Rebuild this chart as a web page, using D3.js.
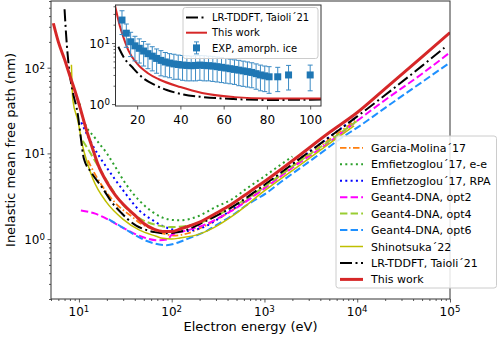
<!DOCTYPE html>
<html>
<head>
<meta charset="utf-8">
<script src="https://cdn.jsdelivr.net/npm/d3@7"></script>
<style>
  body { margin: 0; background: #fff; }
  text { font-family: "DejaVu Sans", sans-serif; fill: #000; }
</style>
</head>
<body>
<svg id="chart" width="498" height="338"></svg>
<script>
// ---------------- data (energy in eV, IMFP in nm) ----------------
const garciaMolina = [[12.5, 8.3], [13.5, 7.0], [18, 4.1], [25, 2.6], [38, 1.8], [45, 1.55], [58, 1.35], [74, 1.2], [90, 1.13], [104, 1.1], [150, 1.17], [200, 1.33], [430, 2.1], [1000, 4.0], [2000, 7.0], [5000, 14.5], [10000, 25]];
const emfietzoglouEE = [[10.2, 38], [11, 26], [15, 15], [20, 10], [25, 6.8], [32, 4.4], [45, 2.8], [63, 2.05], [80, 1.78], [104, 1.67], [123, 1.66], [200, 1.88], [282, 2.3], [465, 3.0], [645, 3.9], [1000, 5.4], [1500, 7.4], [2000, 9.2]];
const emfietzoglouRPA = [[10.6, 23], [14, 12.5], [20, 6.8], [30, 3.7], [45, 2.15], [63, 1.65], [80, 1.42], [100, 1.3], [123, 1.23], [200, 1.33], [430, 2.15], [1000, 4.2], [2000, 7.4], [5000, 15.5], [10000, 27]];
const geantOpt2 = [[10.5, 2.15], [15, 1.98], [20, 1.72], [30, 1.35], [40, 1.15], [54, 1.02], [70, 0.97], [90, 0.99], [100, 1.12], [150, 1.27], [200, 1.4], [430, 2.1], [1000, 3.9], [2000, 6.8], [5000, 13.5], [10000, 24], [20000, 42], [50000, 85], [100000, 151]];
const geantOpt4 = [[11, 14], [13, 10.5], [16, 7.2], [20, 4.8], [30, 2.5], [45, 1.75], [70, 1.45], [100, 1.38], [145, 1.42], [200, 1.55], [430, 2.3], [1000, 4.1], [2000, 7.1], [5000, 14], [10000, 24]];
const geantOpt6 = [[21, 1.7], [27, 1.45], [35, 1.22], [54, 0.95], [88, 0.85], [123, 0.93], [145, 1.0], [239, 1.25], [282, 1.39], [468, 1.95], [645, 2.5], [1070, 3.5], [1490, 4.6], [2450, 6.8], [3420, 8.8], [7150, 15.8], [10000, 20], [20000, 34], [50000, 68], [100000, 115]];
const shinotsuka = [[8.3, 108], [8.6, 42], [9.75, 24], [11, 12], [12, 8.5], [14.2, 5.0], [19.8, 2.7], [30, 1.7], [45, 1.27], [68, 1.08], [80, 1.02], [100, 1.0], [123, 1.03], [202, 1.15], [282, 1.35], [465, 1.9], [980, 3.6], [2450, 7.4], [5000, 13], [9250, 21]];
const taioli = [[7.0, 480], [7.3, 230], [7.8, 100], [8.5, 55], [9.75, 28], [10.5, 15], [11.3, 8.7], [13.6, 6.0], [18.2, 3.86], [22.9, 2.64], [28.3, 2.05], [33.7, 1.7], [41.4, 1.44], [49, 1.32], [64.5, 1.21], [80, 1.17], [100, 1.18], [150, 1.3], [200, 1.5], [430, 2.3], [1000, 4.3], [2000, 7.5], [5000, 15.5], [10000, 27], [20000, 48], [50000, 105], [87000, 171]];
const thisWork = [[5.3, 330], [6, 200], [7, 125], [8, 80], [9, 55], [10, 38], [12, 19], [14, 11.5], [16, 7.5], [20, 4.6], [25, 3.2], [30, 2.55], [40, 1.9], [50, 1.52], [65, 1.3], [80, 1.23], [100, 1.23], [125, 1.32], [200, 1.58], [300, 2.0], [430, 2.5], [700, 3.6], [1000, 4.7], [2000, 8.2], [5000, 17.5], [10000, 30], [20000, 57], [50000, 134], [100000, 257]];

// experiment (inset)
const expEnergy = [13, 15, 17, 19, 21, 23, 25, 27, 29, 31, 33, 35, 37, 39, 41, 43, 45, 47, 49, 51, 53, 55, 57, 59, 61, 63, 65, 67, 69, 71, 73, 75, 77, 79, 81, 85, 90, 100];
const expIMFP = [23.8, 14.5, 10.5, 9.0, 8.2, 7.4, 6.7, 6.1, 5.6, 5.2, 4.9, 4.7, 4.55, 4.45, 4.35, 4.3, 4.25, 4.3, 4.35, 4.3, 4.25, 4.2, 4.1, 4.0, 3.9, 3.8, 3.7, 3.6, 3.5, 3.4, 3.3, 3.15, 3.0, 2.9, 2.8, 2.8, 3.0, 3.0];
const expErr = [10, 6, 4.5, 3.9, 3.5, 3.2, 2.9, 2.6, 2.4, 2.3, 2.1, 2.0, 2.0, 1.9, 1.9, 1.9, 1.85, 1.9, 1.9, 1.9, 1.85, 1.85, 1.8, 1.75, 1.7, 1.65, 1.6, 1.6, 1.55, 1.5, 1.45, 1.4, 1.35, 1.3, 1.3, 1.2, 1.3, 1.35];

const xMajor = [10, 100, 1000, 10000, 100000];
const yMajor = [1, 10, 100];
const insetXTicks = [20, 40, 60, 80, 100];
const insetYMajor = [1, 10];

// ---------------- styles ----------------
const series = [
  {name: "Garcia-Molina´17", data: garciaMolina, color: "#ff7f0e", dash: "6.5,2.5,1.5,2.5", w: 1.8},
  {name: "Emfietzoglou´17, e-e", data: emfietzoglouEE, color: "#2ca02c", dash: "2,3.3", w: 2},
  {name: "Emfietzoglou´17, RPA", data: emfietzoglouRPA, color: "#0000ff", dash: "2,3.3", w: 2},
  {name: "Geant4-DNA, opt2", data: geantOpt2, color: "#ff00ff", dash: "7.4,3.2", w: 2},
  {name: "Geant4-DNA, opt4", data: geantOpt4, color: "#9acd32", dash: "7.4,3.2", w: 2},
  {name: "Geant4-DNA, opt6", data: geantOpt6, color: "#1e90ff", dash: "7.4,3.2", w: 2},
  {name: "Shinotsuka´22", data: shinotsuka, color: "#bfbf00", dash: null, w: 1.5},
  {name: "LR-TDDFT, Taioli´21", data: taioli, color: "#000000", dash: "12,3.5,2,3.5", w: 2},
  {name: "This work", data: thisWork, color: "#d62728", dash: null, w: 3}
];

const svg = d3.select("#chart");
const frame = {left: 51, right: 450, top: 1, bottom: 299};

const x = d3.scaleLog().domain([5, 1e5]).range([frame.left, frame.right]);
const y = d3.scaleLog().domain([0.2, 600]).range([frame.bottom, frame.top]);

const isPow = v => Math.abs(Math.log10(v) - Math.round(Math.log10(v))) < 1e-9;

function powLabel(sel, e) {
  sel.append("tspan").text("10");
  sel.append("tspan").attr("dy", "-0.45em").attr("font-size", "0.72em").text(e);
}

svg.append("defs").append("clipPath").attr("id", "mainClip")
  .append("rect")
  .attr("x", frame.left).attr("y", frame.top)
  .attr("width", frame.right - frame.left).attr("height", frame.bottom - frame.top);

// ---------------- main curves ----------------
const line = d3.line()
  .x(d => x(d[0]))
  .y(d => y(d[1]))
  .curve(d3.curveMonotoneX);

const curves = svg.append("g").attr("clip-path", "url(#mainClip)");
series.forEach(s => {
  curves.append("path")
    .datum(s.data)
    .attr("d", line)
    .attr("fill", "none")
    .attr("stroke", s.color)
    .attr("stroke-width", s.w)
    .attr("stroke-dasharray", s.dash);
});

// ---------------- main axes ----------------
const xAxis = svg.append("g")
  .attr("transform", "translate(0," + frame.bottom + ")")
  .call(d3.axisBottom(x).tickValues(x.ticks().filter(v => !isPow(v))).tickSize(2).tickSizeOuter(0).tickFormat(""));
xAxis.append("g").call(d3.axisBottom(x).tickValues(xMajor).tickSize(3.5).tickSizeOuter(0).tickFormat(""));
xAxis.selectAll(".domain").remove();

xMajor.forEach(v => {
  svg.append("text")
    .attr("x", x(v)).attr("y", 316)
    .attr("text-anchor", "middle")
    .attr("font-size", 12)
    .call(powLabel, Math.round(Math.log10(v)));
});

const yAxis = svg.append("g")
  .attr("transform", "translate(" + frame.left + ",0)")
  .call(d3.axisLeft(y).tickValues(y.ticks().filter(v => !isPow(v))).tickSize(2).tickSizeOuter(0).tickFormat(""));
yAxis.append("g").call(d3.axisLeft(y).tickValues(yMajor).tickSize(3.5).tickSizeOuter(0).tickFormat(""));
yAxis.selectAll(".domain").remove();

yMajor.forEach(v => {
  svg.append("text")
    .attr("x", 45).attr("y", y(v) + 5)
    .attr("text-anchor", "end")
    .attr("font-size", 12)
    .call(powLabel, Math.round(Math.log10(v)));
});

svg.selectAll(".tick line").attr("stroke", "#333").attr("stroke-width", 0.8);

svg.append("rect")
  .attr("x", frame.left).attr("y", frame.top)
  .attr("width", frame.right - frame.left).attr("height", frame.bottom - frame.top)
  .attr("fill", "none").attr("stroke", "#333").attr("stroke-width", 1);

svg.append("text")
  .attr("x", (frame.left + frame.right) / 2).attr("y", 331)
  .attr("text-anchor", "middle").attr("font-size", 13)
  .text("Electron energy (eV)");

svg.append("text")
  .attr("transform", "translate(15," + (frame.top + frame.bottom) / 2 + ") rotate(-90)")
  .attr("text-anchor", "middle").attr("font-size", 13)
  .text("Inelastic mean free path (nm)");

// ---------------- main legend ----------------
const leg = svg.append("g");
leg.append("rect")
  .attr("x", 336).attr("y", 136).attr("width", 160.5).attr("height", 152).attr("rx", 2.5)
  .attr("fill", "#fff").attr("fill-opacity", 0.85)
  .attr("stroke", "#ccc").attr("stroke-width", 1);
series.forEach((s, i) => {
  const yy = 147.8 + i * 16.45;
  leg.append("line")
    .attr("x1", 340).attr("x2", 363).attr("y1", yy).attr("y2", yy)
    .attr("stroke", s.color).attr("stroke-width", s.w)
    .attr("stroke-dasharray", s.dash);
  leg.append("text")
    .attr("x", 371).attr("y", yy + 4)
    .attr("font-size", 11)
    .text(s.name);
});

// ---------------- inset ----------------
const inset = {left: 115.5, right: 321, top: 5, bottom: 106};
const xi = d3.scaleLinear().domain([10, 105]).range([inset.left, inset.right]);
const yi = d3.scaleLog().domain([0.93, 42]).range([inset.bottom, inset.top]);

const ig = svg.append("g");
ig.append("rect")
  .attr("x", inset.left).attr("y", inset.top)
  .attr("width", inset.right - inset.left).attr("height", inset.bottom - inset.top)
  .attr("fill", "#fff");

svg.append("defs").append("clipPath").attr("id", "insetClip")
  .append("rect")
  .attr("x", inset.left).attr("y", inset.top)
  .attr("width", inset.right - inset.left).attr("height", inset.bottom - inset.top);

const iline = d3.line()
  .x(d => xi(d[0]))
  .y(d => yi(d[1]))
  .curve(d3.curveMonotoneX);

const ic = ig.append("g").attr("clip-path", "url(#insetClip)");
ic.append("path").datum(taioli.filter(d => d[0] >= 11.3 && d[0] <= 150))
  .attr("d", iline).attr("fill", "none")
  .attr("stroke", "#000").attr("stroke-width", 2).attr("stroke-dasharray", "12,3.5,2,3.5");
ic.append("path").datum(thisWork.filter(d => d[0] >= 9 && d[0] <= 125))
  .attr("d", iline).attr("fill", "none")
  .attr("stroke", "#d62728").attr("stroke-width", 2);

const expPts = expEnergy.map((e, i) => ({e: e, v: expIMFP[i], err: expErr[i]}));
const eb = ic.append("g").attr("stroke", "#3a8ac4").attr("stroke-width", 1);
expPts.forEach(d => {
  const px = xi(d.e);
  const y1 = yi(d.v + d.err), y2 = yi(d.v - d.err);
  eb.append("line").attr("x1", px).attr("x2", px).attr("y1", y1).attr("y2", y2);
  eb.append("line").attr("x1", px - 2.5).attr("x2", px + 2.5).attr("y1", y1).attr("y2", y1);
  eb.append("line").attr("x1", px - 2.5).attr("x2", px + 2.5).attr("y1", y2).attr("y2", y2);
});
ic.append("g").selectAll("rect")
  .data(expPts)
  .enter().append("rect")
  .attr("x", d => xi(d.e) - 3.5).attr("y", d => yi(d.v) - 3.5)
  .attr("width", 7).attr("height", 7)
  .attr("fill", "#1f77b4");

const ixAxis = ig.append("g")
  .attr("transform", "translate(0," + inset.bottom + ")")
  .call(d3.axisBottom(xi).tickValues(insetXTicks).tickSize(3.5).tickSizeOuter(0).tickFormat(d3.format("d")));
ixAxis.selectAll("text").attr("font-size", 12).attr("font-family", "DejaVu Sans").attr("fill", "#000").attr("dy", "0.95em");
ixAxis.selectAll(".domain").remove();

const iyAxis = ig.append("g")
  .attr("transform", "translate(" + inset.left + ",0)")
  .call(d3.axisLeft(yi).tickValues(yi.ticks().filter(v => !isPow(v))).tickSize(2).tickSizeOuter(0).tickFormat(""));
iyAxis.append("g").call(d3.axisLeft(yi).tickValues(insetYMajor).tickSize(3.5).tickSizeOuter(0).tickFormat(""));
iyAxis.selectAll(".domain").remove();
insetYMajor.forEach(v => {
  ig.append("text")
    .attr("x", 110).attr("y", yi(v) + 4.5)
    .attr("text-anchor", "end")
    .attr("font-size", 12)
    .call(powLabel, Math.round(Math.log10(v)));
});
ig.selectAll(".tick line").attr("stroke", "#333").attr("stroke-width", 0.8);

ig.append("rect")
  .attr("x", inset.left).attr("y", inset.top)
  .attr("width", inset.right - inset.left).attr("height", inset.bottom - inset.top)
  .attr("fill", "none").attr("stroke", "#333").attr("stroke-width", 1);

// inset legend
const il = ig.append("g");
il.append("rect")
  .attr("x", 183).attr("y", 7.5).attr("width", 135).attr("height", 51).attr("rx", 2.5)
  .attr("fill", "#fff").attr("fill-opacity", 0.85)
  .attr("stroke", "#ccc").attr("stroke-width", 1);
const insetLegend = [
  {name: "LR-TDDFT, Taioli´21", kind: "line", color: "#000", dash: "12,3.5,2,3.5"},
  {name: "This work", kind: "line", color: "#d62728", dash: null},
  {name: "EXP, amorph. ice", kind: "marker", color: "#1f77b4", dash: null}
];
insetLegend.forEach((s, i) => {
  const yy = 17.5 + i * 15.2;
  if (s.kind === "line") {
    il.append("line")
      .attr("x1", 186).attr("x2", 207).attr("y1", yy).attr("y2", yy)
      .attr("stroke", s.color).attr("stroke-width", 2).attr("stroke-dasharray", s.dash);
  } else {
    il.append("line").attr("x1", 196.5).attr("x2", 196.5).attr("y1", yy - 6).attr("y2", yy + 6)
      .attr("stroke", "#3a8ac4").attr("stroke-width", 1);
    il.append("line").attr("x1", 194).attr("x2", 199).attr("y1", yy - 6).attr("y2", yy - 6)
      .attr("stroke", "#3a8ac4").attr("stroke-width", 1);
    il.append("line").attr("x1", 194).attr("x2", 199).attr("y1", yy + 6).attr("y2", yy + 6)
      .attr("stroke", "#3a8ac4").attr("stroke-width", 1);
    il.append("rect").attr("x", 193).attr("y", yy - 3.5).attr("width", 7).attr("height", 7)
      .attr("fill", s.color);
  }
  il.append("text")
    .attr("x", 212).attr("y", yy + 3.6)
    .attr("font-size", 10)
    .text(s.name);
});
</script>
</body>
</html>
